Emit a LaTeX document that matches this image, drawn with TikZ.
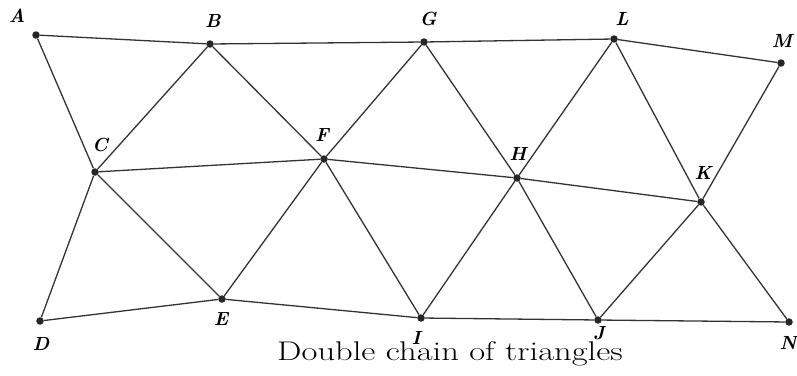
\documentclass[tikz,border=0pt]{standalone}
\usepackage{graphicx}
\begin{document}
\begin{tikzpicture}[x=1pt,y=-1pt,
  pt/.style={circle,fill=black!85,inner sep=0pt,minimum size=7.5pt},
  lbl/.style={font=\fontsize{19}{22}\selectfont\bfseries\itshape,inner sep=0pt},
  edge/.style={draw=black!80,line width=1.3pt}]
\useasboundingbox (0,0) rectangle (797,375);
\node[pt] (A) at (36,35) {};
\node[pt] (B) at (210,44) {};
\node[pt] (G) at (424,42) {};
\node[pt] (L) at (614,39) {};
\node[pt] (M) at (781,63) {};
\node[pt] (C) at (95,172) {};
\node[pt] (F) at (324,159) {};
\node[pt] (H) at (517,178) {};
\node[pt] (K) at (701,202) {};
\node[pt] (D) at (40,321) {};
\node[pt] (E) at (222,299) {};
\node[pt] (I) at (421,318) {};
\node[pt] (J) at (598,320) {};
\node[pt] (N) at (789,322) {};
\foreach \a/\b in {A/B,B/G,G/L,L/M,A/C,C/B,B/F,F/G,G/H,H/L,L/K,K/M,C/F,F/H,H/K,C/D,C/E,E/F,F/I,I/H,H/J,J/K,K/N,D/E,E/I,I/J,J/N}
  \draw[edge] (\a) -- (\b);
\node[lbl] (lA) at (17,16) {A};
\node[lbl] (lB) at (213,21) {B};
\node[lbl] (lG) at (428,19) {G};
\node[lbl] (lL) at (622,19) {L};
\node[lbl] (lM) at (782,41) {M};
\node[lbl] (lC) at (100,145) {C};
\node[lbl] (lF) at (322,135) {F};
\node[lbl] (lH) at (518,154) {H};
\node[lbl] (lK) at (703,173) {K};
\node[lbl] (lD) at (41,344) {D};
\node[lbl] (lE) at (221,319) {E};
\node[lbl] (lI) at (416,338) {I};
\node[lbl] (lJ) at (599,333) {J};
\node[lbl] (lN) at (788,343) {N};
\node[anchor=base,inner sep=0pt,font=\fontsize{27}{31}\selectfont] (cap) at (450,360) {\scalebox{1.28}[1]{Double chain of triangles}};
\end{tikzpicture}
\end{document}
